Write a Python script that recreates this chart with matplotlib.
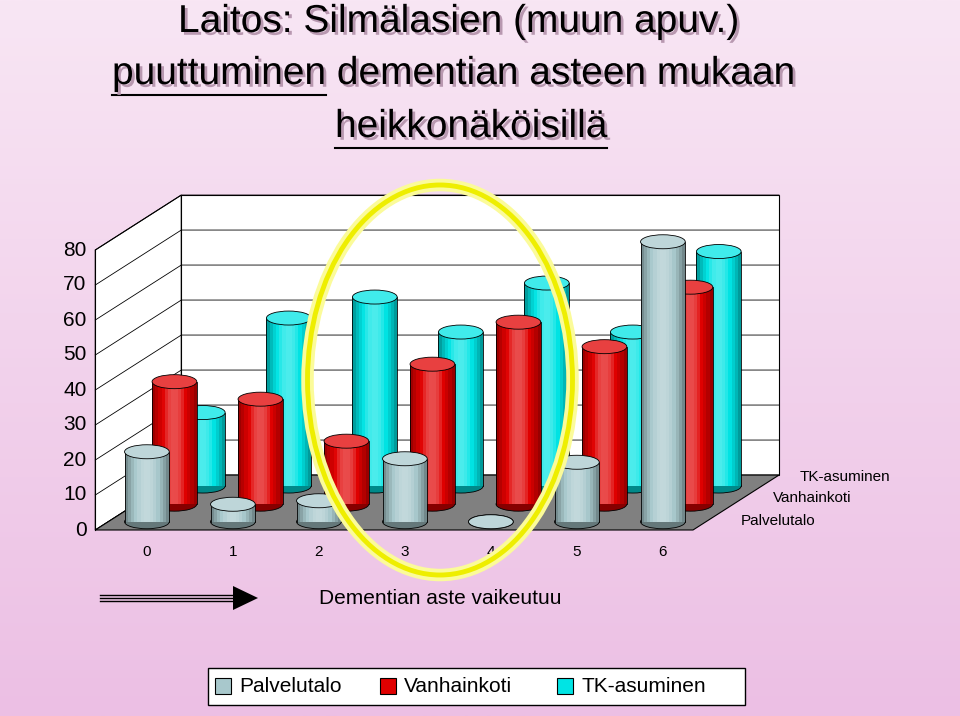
import matplotlib
matplotlib.use("Agg")
import matplotlib.pyplot as plt
import matplotlib.patheffects as pe
from matplotlib.patches import Rectangle, Ellipse, Polygon
import numpy as np

categories = ["0", "1", "2", "3", "4", "5", "6"]
series_names = ["Palvelutalo", "Vanhainkoti", "TK-asuminen"]
palvelutalo = [20, 5, 6, 18, 0, 17, 80]
vanhainkoti = [35, 30, 18, 40, 52, 45, 62]
tk_asuminen = [21, 48, 54, 44, 58, 44, 67]
yticks = [0, 10, 20, 30, 40, 50, 60, 70, 80]
colors = ["#a8c8cc", "#e00000", "#00e4e4"]

W, H = 960, 716
fig = plt.figure(figsize=(9.6, 7.16), dpi=100)
fig.patch.set_facecolor("#f3d3ec")
ax = fig.add_axes([0, 0, 1, 1])
ax.set_xlim((0 - 134) / 86, (W - 134) / 86)
ax.set_ylim((530 - H) / 3.5, 530 / 3.5)
ax.axis("off")
bg = np.linspace(0, 1, 256).reshape(-1, 1)
ax.imshow(bg, extent=[ax.get_xlim()[0], ax.get_xlim()[1], ax.get_ylim()[0], ax.get_ylim()[1]],
          cmap=matplotlib.colors.LinearSegmentedColormap.from_list("bg", ["#f8e6f4", "#ecbfe4"]),
          aspect="auto", zorder=0)

DX, DY = 1.0, 15.7
x0 = -0.45
x1 = 6.5
TOP = 80
ax.add_patch(Polygon([(x0, 0), (x0 + DX, DY), (x0 + DX, DY + TOP), (x0, TOP)], closed=True,
                     fc="white", ec="black", lw=0.8, zorder=1))
ax.add_patch(Polygon([(x0 + DX, DY), (x1 + DX, DY), (x1 + DX, DY + TOP), (x0 + DX, DY + TOP)], closed=True,
                     fc="white", ec="black", lw=0.8, zorder=1))
for t in yticks:
    ax.plot([x0, x0 + DX, x1 + DX], [t, t + DY, t + DY], color="black", lw=0.6, zorder=1.5)
ax.add_patch(Polygon([(x0, 0), (x1, 0), (x1 + DX, DY), (x0 + DX, DY)], closed=True,
                     fc="#808080", ec="black", lw=0.8, zorder=1.6))
ax.plot([x0, x0], [0, TOP], color="black", lw=0.8, zorder=1.7)

def cylinder(cx, base, val, col, z):
    w = 0.52
    eh = 4.0
    c = np.array(matplotlib.colors.to_rgb(col))
    n = 14
    for i in range(n):
        f = i / (n - 1)
        shade = 0.55 + 0.6 * np.sin(np.pi * (f * 0.85 + 0.08))
        cc = np.clip(c * shade if shade < 1 else c + (1 - c) * (shade - 1) * 2, 0, 1)
        ax.add_patch(Rectangle((cx - w / 2 + f * w * (n - 1) / n, base), w / n + 0.002, val,
                               fc=cc, ec="none", zorder=z))
    ax.add_patch(Ellipse((cx, base), w, eh, fc=c * 0.6, ec="black", lw=0.6, zorder=z - 0.01))
    ax.plot([cx - w / 2, cx - w / 2], [base, base + val], color="black", lw=0.6, zorder=z + 0.01)
    ax.plot([cx + w / 2, cx + w / 2], [base, base + val], color="black", lw=0.6, zorder=z + 0.01)
    ax.add_patch(Ellipse((cx, base + val), w, eh, fc=np.clip(c + (1 - c) * 0.25, 0, 1),
                         ec="black", lw=0.6, zorder=z + 0.02))

rows = [palvelutalo, vanhainkoti, tk_asuminen]
fracs = [0.15, 0.47, 0.8]
for r in [2, 1, 0]:
    for i, v in enumerate(rows[r]):
        z = 2 + (2 - r) * 2 + i * 0.1
        cylinder(i + fracs[r] * DX, fracs[r] * DY, v, colors[r], z)

for t in yticks:
    ax.text(x0 - 0.1, t, str(t), ha="right", va="center", fontsize=15, family="Liberation Sans")
for i, c in enumerate(categories):
    ax.text(i + 0.15, -6.3, c, ha="center", va="center", fontsize=11, family="Liberation Sans")

ax.add_patch(Ellipse(((440 - 134) / 86, (530 - 380) / 3.5), 265 / 86, 390 / 3.5, fc="none",
                     ec="#fbfb9a", lw=9, zorder=20))
ax.add_patch(Ellipse(((440 - 134) / 86, (530 - 380) / 3.5), 265 / 86, 390 / 3.5, fc="none",
                     ec="#eeee00", lw=3.5, zorder=21))

def fx(x): return x / W
def fy(y): return 1 - y / H

for name, (x, y) in zip(series_names, [(778, 521), (812, 498), (845, 477)]):
    fig.text(fx(x), fy(y), name, ha="center", va="center", fontsize=11, family="Liberation Sans")

for dy in (-3, 0, 3):
    fig.lines.append(plt.Line2D([fx(100), fx(235)], [fy(598 + dy)] * 2, color="black", lw=1.0,
                                transform=fig.transFigure))
fig.patches.append(Polygon([(fx(233), fy(586)), (fx(258), fy(598)), (fx(233), fy(610))],
                           closed=True, fc="black", transform=fig.transFigure))
fig.text(fx(440), fy(598), "Dementian aste vaikeutuu", ha="center", va="center", fontsize=15,
         family="Liberation Sans")

title_lines = [("Laitos: Silmälasien (muun apuv.)", 178, 22, None),
               ("puuttuminen dementian asteen mukaan", 112, 74, "puuttuminen"),
               ("heikkonäköisillä", 335, 127, "heikkonäköisillä")]
fig.canvas.draw()
r = fig.canvas.get_renderer()
shadow = [pe.withSimplePatchShadow(offset=(2, -2), shadow_rgbFace="#a08898", alpha=0.8), pe.Normal()]
for txt, x, y, ul in title_lines:
    t = fig.text(fx(x), fy(y), txt, fontsize=28, va="center", family="Liberation Sans")
    t.set_path_effects([pe.SimpleLineShadow(offset=(2, -2)), pe.Normal()])
    t.set_path_effects([pe.withStroke(linewidth=0, foreground="none")])
    t.set_path_effects([pe.SimplePatchShadow(offset=(2, -2), shadow_rgbFace="#b898b0", alpha=1), pe.Normal()])
    if ul:
        tmp = fig.text(fx(x), fy(y), ul, fontsize=28, va="center", family="Liberation Sans", alpha=0)
        bb = tmp.get_window_extent(r)
        tmp.remove()
        fig.lines.append(plt.Line2D([bb.x0 / W, bb.x1 / W], [fy(y + 21)] * 2, color="black", lw=1.5,
                                    transform=fig.transFigure))

fig.patches.append(Rectangle((fx(208), fy(705)), (745 - 208) / W, 37 / H, fc="white", ec="black",
                             lw=1, transform=fig.transFigure))
items = [(215, "Palvelutalo"), (380, "Vanhainkoti"), (557, "TK-asuminen")]
for (x, name), col in zip(items, colors):
    fig.patches.append(Rectangle((fx(x), fy(694)), 16 / W, 16 / H, fc=col, ec="black", lw=0.8,
                                 transform=fig.transFigure))
    fig.text(fx(x + 24), fy(687), name, fontsize=15, va="center", family="Liberation Sans")

fig.savefig("out.png", dpi=100, facecolor=fig.get_facecolor())
